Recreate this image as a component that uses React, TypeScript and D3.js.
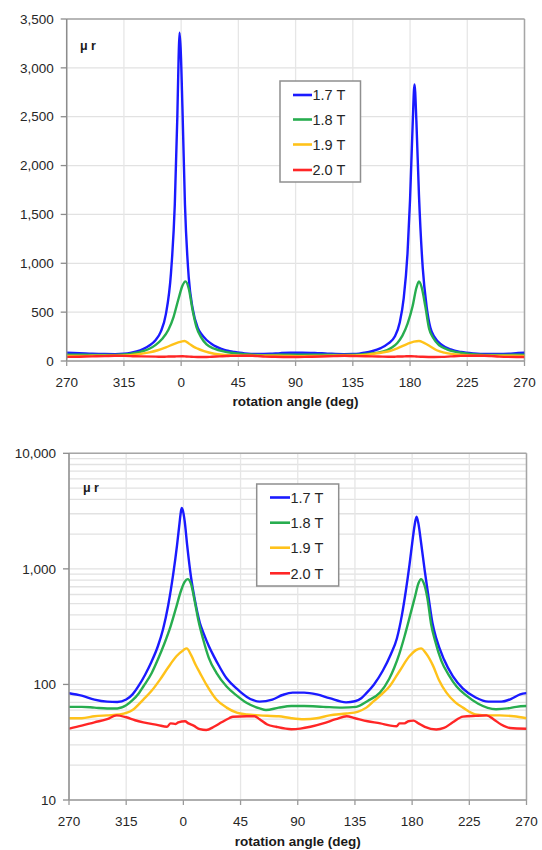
import React from "react";
import * as d3 from "d3";

// ---------- data ----------
const seriesNames = ["1.7 T", "1.8 T", "1.9 T", "2.0 T"];
const seriesColors = ["#1a1aff", "#27ad4f", "#ffc21a", "#ff2626"];

const xTickValues = [-90, -45, 0, 45, 90, 135, 180, 225, 270];
const xTickLabels = ["270", "315", "0", "45", "90", "135", "180", "225", "270"];
const linTicks = [0, 500, 1000, 1500, 2000, 2500, 3000, 3500];
const logTicks = [10, 100, 1000, 10000];

// rotation angle (shifted so that 270 -> -90) and relative permeability
const angle17 = [-90, -80, -70, -60, -52, -45, -40, -35, -30, -25, -20, -16, -12, -8, -5, -3, -2, -1.3, -0.4, 1, 3, 6, 9, 13, 16, 20, 24, 28, 34, 38, 42, 46, 50, 55, 60, 70, 78, 86, 95, 105, 115, 128, 135, 140, 144, 150, 157, 163, 168, 172, 175, 178, 180, 182, 183.5, 185, 187, 190, 193, 196, 199, 205, 212, 220, 230, 240, 250, 258, 265, 270];
const mu17 = [84, 80, 74, 71, 70.5, 74, 82, 98, 122, 158, 215, 300, 480, 900, 1600, 2500, 3100, 3360, 3200, 2600, 1600, 850, 540, 340, 275, 215, 175, 145, 113, 101, 92, 84, 78, 73, 71, 74, 81, 85, 85, 82, 76, 70, 71.5, 76, 84, 100, 132, 180, 250, 400, 640, 1100, 1650, 2400, 2830, 2450, 1700, 950, 560, 340, 250, 165, 118, 92, 77, 71, 71, 75, 82, 84];

const angle18 = [-90, -80, -70, -60, -52, -45, -40, -35, -31.5, -25, -20, -15, -10, -6, -2, 1, 3.4, 6, 9, 12, 15.6, 20, 26, 34, 42, 50, 60, 65, 75, 85, 95, 110, 125, 136, 145, 154.7, 162, 166, 170, 174, 178, 182, 185, 187, 189, 192, 195, 198, 203, 209, 215, 222.8, 232, 246, 255, 262, 270];
const mu18 = [64, 64, 63, 62, 62, 66, 73, 84, 96, 125, 165, 225, 320, 450, 640, 770, 815, 740, 520, 350, 245, 170, 126, 96, 80, 69, 62, 60, 63, 65, 65, 64, 63, 64, 72, 85, 112, 140, 185, 260, 380, 560, 750, 815, 760, 560, 330, 240, 160, 120, 96, 80, 68, 61, 62, 64, 65];

const angle19 = [-90, -80, -70, -60, -50, -40, -31.5, -25, -18.4, -12, -5.3, 0, 2.6, 6, 10, 13, 18, 26, 34, 42, 50, 60, 75, 85, 95, 105, 115, 128.5, 137, 144, 150, 156, 162.5, 170, 178, 183, 187, 191, 196.6, 201, 207, 214, 220, 230, 240, 249, 260, 270];
const mu19 = [51, 51, 53, 54, 55, 60, 74, 88, 110, 140, 176, 198, 205, 180, 145, 126, 100, 74, 63, 57, 55, 54, 53, 51, 50, 51, 54, 56, 58, 63, 72, 82, 97, 130, 176, 198, 205, 185, 144, 110, 85, 70, 63, 55, 54, 54, 53, 51];

const angle20 = [-90, -80, -70, -60, -52.5, -45, -38, -31.5, -20, -13, -10, -6, -4, 1.3, 4, 8, 13, 18, 24, 30, 36, 39, 50, 56, 60, 66, 73, 85, 92, 100, 110, 120, 128.5, 135, 145, 155, 163, 167.8, 170, 174, 177, 181, 185, 190, 199, 205, 212, 220, 230, 238.5, 244, 250, 257, 270];
const mu20 = [41.4, 44, 47, 50, 54, 52, 49, 47, 44.5, 43, 46, 45.5, 47, 48, 46, 44, 41, 40.3, 43, 47, 51, 52.6, 53, 53, 50, 45, 43, 41, 41.5, 43, 46, 50, 53, 51, 48, 46, 44, 43.5, 46, 46, 48, 48.6, 46, 43, 40.8, 42, 47, 52.6, 53.5, 54, 50, 45, 42, 41.4];

const seriesAngles = [angle17, angle18, angle19, angle20];
const seriesValues = [mu17, mu18, mu19, mu20];

// ---------- layout ----------
const FONT = "'Liberation Sans', Arial, sans-serif";
const W = 542;
const H = 850;

type Pt = { a: number; v: number };

function buildSeries(): Pt[][] {
  return seriesAngles.map((angles, i) =>
    angles.map((a, j) => ({ a, v: seriesValues[i][j] }))
  );
}

interface PanelProps {
  log: boolean;
  left: number;
  right: number;
  top: number;
  bottom: number;
  legend: { x: number; y: number; w: number; h: number; rowY: number[]; lineX0: number; lineX1: number };
  muPos: { x: number; y: number };
  tickLabelY: number;
  titleY: number;
}

function Panel(p: PanelProps) {
  const x = d3.scaleLinear().domain([-90, 270]).range([p.left, p.right]);
  const y = p.log
    ? d3.scaleLog().domain([10, 10000]).range([p.bottom, p.top])
    : d3.scaleLinear().domain([0, 3500]).range([p.bottom, p.top]);
  const data = buildSeries();
  const line = d3
    .line<Pt>()
    .x((d) => x(d.a))
    .y((d) => y(d.v))
    .curve(d3.curveMonotoneX);

  const yTicks = p.log ? logTicks : linTicks;
  const gridY: number[] = [];
  if (p.log) {
    for (const d of [10, 100, 1000]) {
      for (let k = 1; k <= 9; k++) gridY.push(k * d);
    }
    gridY.push(10000);
  } else {
    gridY.push(...linTicks);
  }
  const fmt = d3.format(",");
  const clipId = p.log ? "clipLog" : "clipLin";

  return (
    <g>
      <defs>
        <clipPath id={clipId}>
          <rect x={p.left} y={p.top} width={p.right - p.left} height={p.bottom - p.top} />
        </clipPath>
      </defs>
      {/* gridlines */}
      {gridY.map((v, i) => (
        <line key={"gy" + i} x1={p.left} x2={p.right} y1={y(v)} y2={y(v)} stroke="#e2e2e2" strokeWidth={1.3} />
      ))}
      {xTickValues.map((v, i) => (
        <line key={"gx" + i} x1={x(v)} x2={x(v)} y1={p.top} y2={p.bottom} stroke="#e6e6e6" strokeWidth={1.3} />
      ))}
      {/* frame */}
      <line x1={p.left} x2={p.right} y1={p.top} y2={p.top} stroke="#a6a6a6" strokeWidth={1.5} />
      <line x1={p.right} x2={p.right} y1={p.top} y2={p.bottom} stroke="#a6a6a6" strokeWidth={1.5} />
      {/* series */}
      <g clipPath={`url(#${clipId})`}>
        {data.map((s, i) => (
          <path key={"s" + i} d={line(s) || ""} fill="none" stroke={seriesColors[i]} strokeWidth={2.4} strokeLinejoin="round" />
        ))}
      </g>
      {/* axes */}
      <line x1={p.left} x2={p.left} y1={p.top} y2={p.bottom} stroke="#8c8c8c" strokeWidth={1.5} />
      <line x1={p.left} x2={p.right} y1={p.bottom} y2={p.bottom} stroke="#9a9a9a" strokeWidth={1.5} />
      {yTicks.map((v, i) => (
        <g key={"yt" + i}>
          <line x1={p.left - 6} x2={p.left} y1={y(v)} y2={y(v)} stroke="#8c8c8c" strokeWidth={1.3} />
          <text x={p.left - 13} y={y(v)} dy="0.35em" textAnchor="end" fontFamily={FONT} fontSize={13.5} fill="#262626">
            {fmt(v)}
          </text>
        </g>
      ))}
      {xTickValues.map((v, i) => (
        <g key={"xt" + i}>
          <line x1={x(v)} x2={x(v)} y1={p.bottom} y2={p.bottom + 5} stroke="#9a9a9a" strokeWidth={1.3} />
          <text x={x(v)} y={p.tickLabelY} textAnchor="middle" fontFamily={FONT} fontSize={13.5} fill="#262626">
            {xTickLabels[i]}
          </text>
        </g>
      ))}
      <text x={(p.left + p.right) / 2} y={p.titleY} textAnchor="middle" fontFamily={FONT} fontSize={13.5} fontWeight="bold" fill="#1a1a1a">
        rotation angle (deg)
      </text>
      <text x={p.muPos.x} y={p.muPos.y} fontFamily={FONT} fontSize={12.5} fontWeight="bold" fill="#1a1a1a">
        μ r
      </text>
      {/* legend */}
      <rect x={p.legend.x} y={p.legend.y} width={p.legend.w} height={p.legend.h} fill="#ffffff" stroke="#8f8f8f" strokeWidth={1.5} />
      {seriesNames.map((n, i) => (
        <g key={"lg" + i}>
          <line x1={p.legend.lineX0} x2={p.legend.lineX1} y1={p.legend.rowY[i]} y2={p.legend.rowY[i]} stroke={seriesColors[i]} strokeWidth={2.6} />
          <text x={p.legend.lineX1 + 0.5} y={p.legend.rowY[i]} dy="0.36em" fontFamily={FONT} fontSize={14.5} fill="#262626">
            {n}
          </text>
        </g>
      ))}
    </g>
  );
}

export default function App() {
  return (
    <svg
      width={W}
      height={H}
      viewBox={`0 0 ${W} ${H}`}
      style={{ position: "absolute", left: 0, top: 0, background: "#ffffff" }}
    >
      <rect x={0} y={0} width={W} height={H} fill="#ffffff" />
      <Panel
        log={false}
        left={66.7}
        right={524.5}
        top={19}
        bottom={361}
        legend={{ x: 280, y: 81, w: 80.5, h: 101, rowY: [95, 119.5, 144.5, 170], lineX0: 293, lineX1: 312 }}
        muPos={{ x: 80, y: 50 }}
        tickLabelY={387}
        titleY={406}
      />
      <Panel
        log={true}
        left={69}
        right={526.5}
        top={453.3}
        bottom={800}
        legend={{ x: 256.7, y: 484, w: 82, h: 102, rowY: [497.5, 522.7, 547.7, 573.3], lineX0: 270, lineX1: 290 }}
        muPos={{ x: 83, y: 491.5 }}
        tickLabelY={825.5}
        titleY={846}
      />
    </svg>
  );
}
